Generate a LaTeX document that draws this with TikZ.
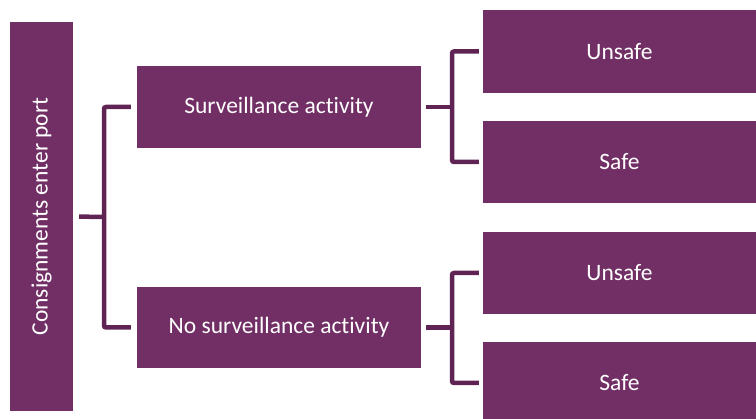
\documentclass[tikz,border=0pt]{standalone}
\usepackage{fontspec}
\setmainfont[RawFeature={-liga;-dlig;-calt;-clig}]{Carlito}
\definecolor{boxfill}{RGB}{114,47,101}
\definecolor{linecol}{RGB}{96,36,84}
\begin{document}
\begin{tikzpicture}[x=1pt,y=1pt,
  box/.style={fill=boxfill, draw=none, text=white, inner sep=0pt,
    font=\fontsize{23.5}{28}\selectfont},
  conn/.style={draw=linecol, line width=4.5pt, rounded corners=2pt}]
\useasboundingbox (0,0) rectangle (756,-419);
\node[box, minimum width=63, minimum height=389] (L) at (41.5,-216.5) {\rotatebox{90}{Consignments enter port}};
\node[box, minimum width=284, minimum height=82] (M1) at (279,-107) {Surveillance activity};
\node[box, minimum width=284, minimum height=81] (M2) at (279,-327.5) {No surveillance activity};
\node[box, minimum width=273, minimum height=83] (R1) at (619.5,-51.5) {Unsafe};
\node[box, minimum width=273, minimum height=82] (R2) at (619.5,-162) {Safe};
\node[box, minimum width=273, minimum height=82] (R3) at (619.5,-273) {Unsafe};
\node[box, minimum width=273, minimum height=82] (R4) at (619.5,-383) {Safe};
\coordinate (j1) at (104,-217);
\coordinate (j2) at (452,-107);
\coordinate (j3) at (452,-327.5);
\draw[conn, shorten <=6pt] (L.east) -- (j1);
\draw[conn, shorten <=6pt, shorten >=6pt] (M1.west) -| (j1) |- (M2.west);
\draw[conn, shorten <=5pt] (M1.east) -- (j2);
\draw[conn, shorten <=4pt, shorten >=4pt] (R1.west) -| (j2) |- (R2.west);
\draw[conn, shorten <=5pt] (M2.east) -- (j3);
\draw[conn, shorten <=4pt, shorten >=4pt] (R3.west) -| (j3) |- (R4.west);
\end{tikzpicture}
\end{document}
